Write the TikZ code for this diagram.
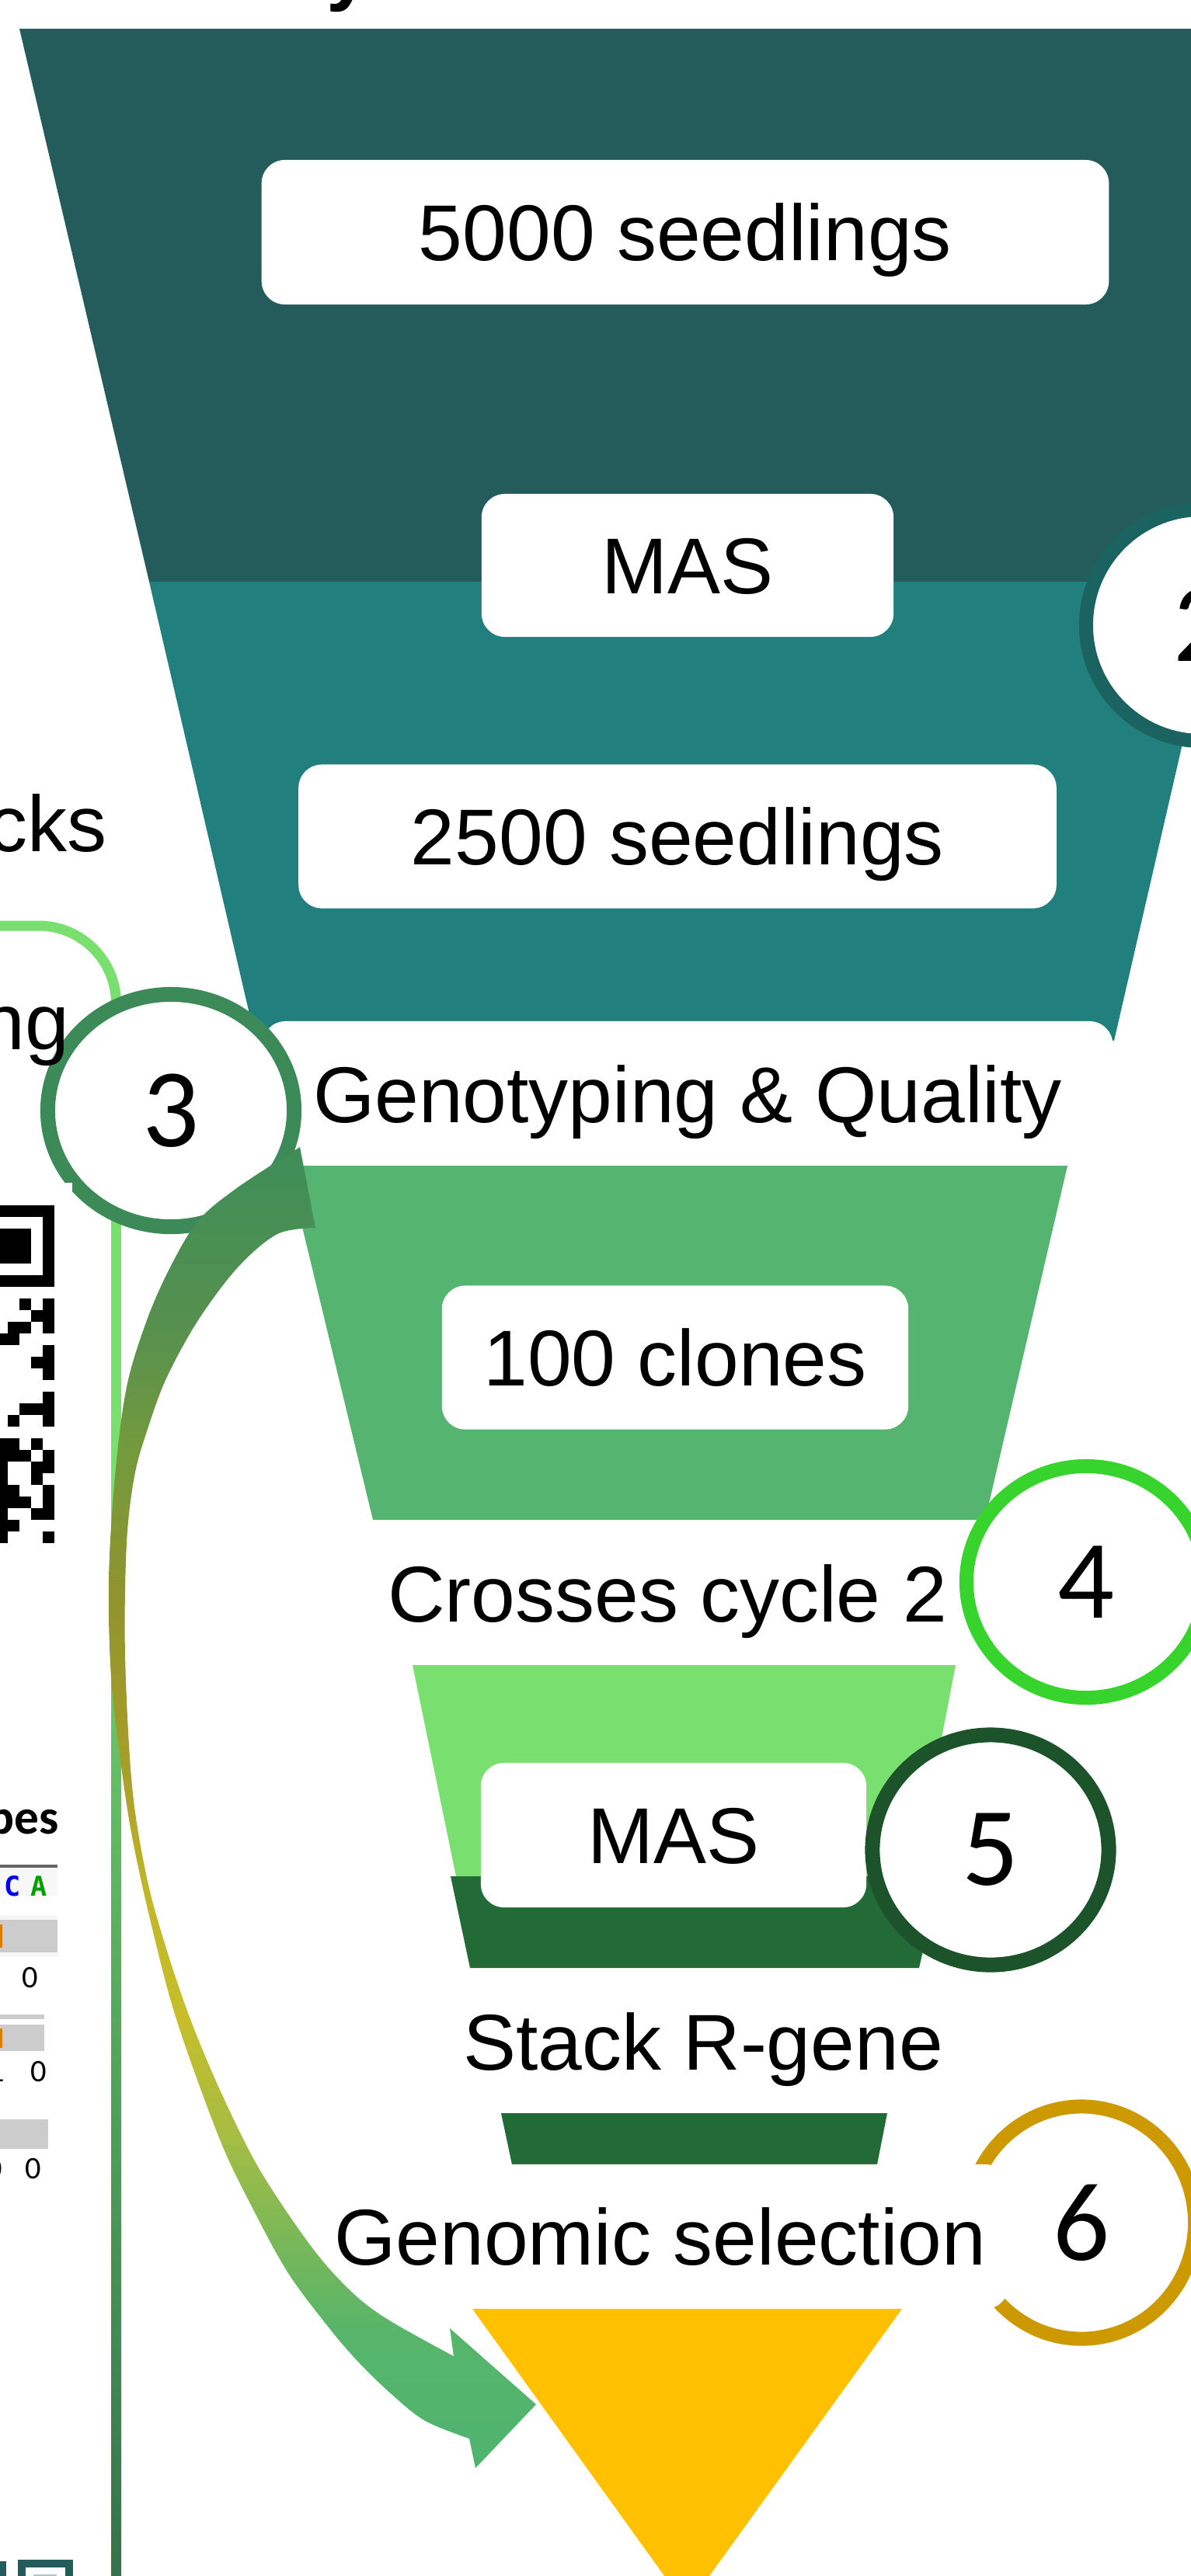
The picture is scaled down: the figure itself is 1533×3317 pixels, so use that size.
\documentclass[tikz,border=0pt]{standalone}
\usepackage{fontspec}
\setmainfont{Liberation Sans}
\newfontfamily\numfont{Carlito}
\newfontfamily\codefont{DejaVu Sans Mono}
\usetikzlibrary{shapes.geometric}

% funnel stages
\definecolor{bandA}{HTML}{245C5C}
\definecolor{bandB}{HTML}{21807E}
\definecolor{bandC}{HTML}{55B570}
\definecolor{bandD}{HTML}{79E070}
\definecolor{bandE}{HTML}{236B36}
\definecolor{bandF}{HTML}{FFC000}
% step badges
\definecolor{ringTwo}{HTML}{1A6360}
\definecolor{ringThree}{HTML}{3C8A57}
\definecolor{ringFour}{HTML}{36D42C}
\definecolor{ringFive}{HTML}{1C532B}
\definecolor{ringSix}{HTML}{CC9900}
% feedback arrow
\definecolor{arA}{HTML}{4FB46F}
\definecolor{arB}{HTML}{56B56B}
\definecolor{arC}{HTML}{7DB856}
\definecolor{arD}{HTML}{A6BD43}
\definecolor{arE}{HTML}{C6BE2A}
\definecolor{arF}{HTML}{C3B72A}
\definecolor{arG}{HTML}{A89D28}
\definecolor{arH}{HTML}{8E942F}
\definecolor{arI}{HTML}{749A3C}
\definecolor{arJ}{HTML}{55904F}
\definecolor{arK}{HTML}{3E8E59}
% side rail
\definecolor{railA}{HTML}{79E070}
\definecolor{railB}{HTML}{66BE66}
\definecolor{railC}{HTML}{4E9A5A}
\definecolor{railD}{HTML}{37704B}
% table
\definecolor{tabLine}{HTML}{666666}
\definecolor{tabBand}{HTML}{F7F7F7}
\definecolor{tabBar}{HTML}{CCCCCC}
\definecolor{tabOrange}{HTML}{E07B00}
\definecolor{tabBlue}{HTML}{0000F0}
\definecolor{tabGreen}{HTML}{00A000}
\definecolor{tealLight}{HTML}{A9C9C9}

\pgfdeclareverticalshading{arrowshade}{100bp}{color(0bp)=(arA); color(25bp)=(arA);
  color(30bp)=(arB); color(34bp)=(arC); color(37.6bp)=(arD); color(42bp)=(arE);
  color(46.4bp)=(arF); color(51.6bp)=(arG); color(58.3bp)=(arH); color(63.4bp)=(arI);
  color(68.4bp)=(arJ); color(75bp)=(arK); color(100bp)=(arK)}
\pgfdeclareverticalshading{railshade}{100bp}{color(0bp)=(railD); color(25bp)=(railD);
  color(38bp)=(railC); color(51bp)=(railB); color(60bp)=(railA); color(100bp)=(railA)}

\tikzset{
  stage/.style={font=\fontsize{29}{35}\selectfont, text height=0.73cm, text depth=0pt, inner sep=0pt},
  pill/.style={stage, fill=white, rounded corners=0.3cm},
  badge/.style={ellipse, fill=white, inner sep=0pt, line width=0.18cm,
    font=\numfont\fontsize{41}{49}\selectfont},
  cell/.style={fill=black},
  smalldigit/.style={font=\numfont\fontsize{11.5}{13}\selectfont, inner sep=0pt, anchor=base},
  basecode/.style={font=\codefont\bfseries\fontsize{10}{12}\selectfont, inner sep=0pt, anchor=base}
}

\begin{document}
\begin{tikzpicture}[x=0.01cm, y=-0.01cm]
\useasboundingbox (0,0) rectangle (1533,3317);
\clip (0,0) rectangle (1533,3317);
\fill[white] (0,0) rectangle (1533,3317);

% descender of the heading above
\node[anchor=base west, font=\fontsize{29}{35}\selectfont\bfseries, inner sep=0pt] (heading) at (420,-6) {y};

% funnel bands
\fill[bandA] (25,37) -- (1800,37) -- (1800,749) -- (192,749) -- cycle;
\fill[bandB] (192,749) -- (1570,749) -- (1434,1340) -- (329,1340) -- cycle;

\node[pill, minimum width=10.9cm, minimum height=1.86cm] (seed5000) at (882,299) {5000 seedlings};
\node[pill, minimum width=5.3cm, minimum height=1.84cm] (masA) at (885,728) {MAS};
\node[pill, minimum width=9.75cm, minimum height=1.85cm] (seed2500) at (872,1077) {2500 seedlings};

\node[badge, draw=ringTwo, minimum width=2.98cm, minimum height=2.98cm] (stepTwo) at (1547,805) {2};

\node[pill, minimum width=10.94cm, minimum height=1.88cm] (geno) at (885,1409) {Genotyping \& Quality};

\fill[bandC] (370,1501) -- (1374,1501) -- (1268,1957) -- (480,1957) -- cycle;
\node[pill, minimum width=6.0cm, minimum height=1.85cm] (clones) at (869,1748) {100 clones};

\node[stage] (cross) at (859,2052) {Crosses cycle 2};

\fill[bandD] (531,2144) -- (1230,2144) -- (1178,2416) -- (587,2416) -- cycle;
\fill[bandE] (580,2416) -- (1210,2416) -- (1183,2534) -- (605,2534) -- cycle;
\node[pill, minimum width=4.96cm, minimum height=1.86cm] (masB) at (867,2363) {MAS};

\node[stage] (stack) at (905,2629) {Stack R-gene};
\fill[bandE] (645,2721) -- (1142,2721) -- (1129,2787) -- (659,2787) -- cycle;

\node[badge, draw=ringSix, minimum width=2.92cm, minimum height=2.99cm] (stepSix) at (1392,2862) {6};
\node[pill, minimum width=8.96cm, minimum height=1.86cm] (genomic) at (850,2880) {Genomic selection};

\fill[bandF] (608,2973) -- (1161,2973) -- (884,3357) -- cycle;

\node[badge, draw=ringFour, minimum width=3.08cm, minimum height=2.98cm] (stepFour) at (1398,2037) {4};
\node[badge, draw=ringFive, line width=0.19cm, minimum width=3.04cm, minimum height=2.96cm] (stepFive) at (1275,2382) {5};

% left panel: rail
\draw[railA, line width=0.13cm, rounded corners=1cm] (-20,1192) -- (149.5,1192) -- (149.5,1300);
\shade[shading=railshade] (143,1292) rectangle (156,3317);

% step 3 badge
\node[badge, draw=ringThree, line width=0.19cm, minimum width=3.17cm, minimum height=2.99cm] (stepThree) at (220,1430) {3};

% clipped labels of the side panel
\node[stage, anchor=base east] (blocks) at (138,1096) {cks};
\node[stage, anchor=base east] (typing) at (90,1351) {ng};

% QR code fragment
\fill[white] (-10,1523) rectangle (93,2000);
\fill[black] (-40,1552) rectangle (70,1657);
\fill[white] (-25,1567) rectangle (55,1642);
\fill[black] (-10,1582) rectangle (40,1627);
\foreach \r/\c in {8/0,8/2,9/0,9/1,10/0,10/2,10/3,11/3,11/4,12/0,13/0,13/1,14/0,
  16/0,17/0,17/1,17/2,18/0,18/3,20/1,20/3,20/4,21/0,21/2,21/3,21/4,22/0,22/1,22/4,
  23/1,23/4,24/0,24/3,24/4,25/0,25/2,25/3,25/4,26/0,26/1,26/4,27/3,27/4,28/0,28/4}
  \fill[cell] (55-15*\c,1552+15*\r) rectangle ++(15,15);

% haplotype table fragment
\node[anchor=base east, font=\numfont\bfseries\fontsize{18}{20}\selectfont, inner sep=0pt] (hapTitle) at (76,2361) {pes};
\fill[tabLine] (0,2401) rectangle (74,2405);
\fill[tabBand] (0,2405) rectangle (74,2441);
\node[basecode, text=tabBlue] (baseC) at (16,2441) {C};
\node[basecode, text=tabGreen] (baseA) at (50,2441) {A};
\fill[tabBand] (0,2466) rectangle (74,2520);
\fill[tabBar] (0,2472) rectangle (74,2514);
\fill[tabOrange] (0,2478) rectangle (3,2508);
\node[smalldigit] (countA) at (39,2559) {0};
\fill[tabBar] (0,2594) rectangle (57,2600);
\fill[tabBar] (0,2607) rectangle (57,2641);
\fill[tabOrange] (0,2612) rectangle (3,2637);
\node[smalldigit, anchor=base east] (countB) at (7,2680) {1};
\node[smalldigit] (countC) at (50,2680) {0};
\fill[tabBar] (0,2729) rectangle (62,2767);
\node[smalldigit, anchor=base east] (countD) at (4,2805) {0};
\node[smalldigit] (countE) at (43,2805) {0};

% corner icon fragment
\draw[bandA, line width=0.1cm] (28,3301) rectangle (89,3350);
\fill[tealLight] (43,3315) rectangle (73,3320);
\fill[bandA] (0,3298) rectangle (8,3317);

% feedback arrow from step 3 down to the selected clones
\coordinate (tailTop) at (386,1477);
\coordinate (tip) at (690,3096);
\shade[shading=arrowshade]
  plot[smooth, tension=0.55] coordinates {(386,1477) (306,1529) (255,1572) (219,1632)
    (189,1700) (163,1786) (148,1901) (140,2033) (143,2159) (156,2274) (170,2365)
    (194,2475) (227,2600) (283,2755) (327,2847) (371,2927) (420,2993) (459,3039)
    (503,3082) (547,3117) (604,3140)}
  -- (612,3178) -- (tip) -- (579,2998)
  -- plot[smooth, tension=0.55] coordinates {(584,3034) (503,2989) (459,2957) (415,2911)
    (371,2851) (327,2781) (283,2691) (245,2600) (214,2509) (189,2418) (170,2300)
    (161,2130) (163,1987) (173,1901) (189,1843) (214,1775) (255,1700) (306,1632)
    (357,1589) (406,1581)}
  -- cycle;
\end{tikzpicture}
\end{document}
